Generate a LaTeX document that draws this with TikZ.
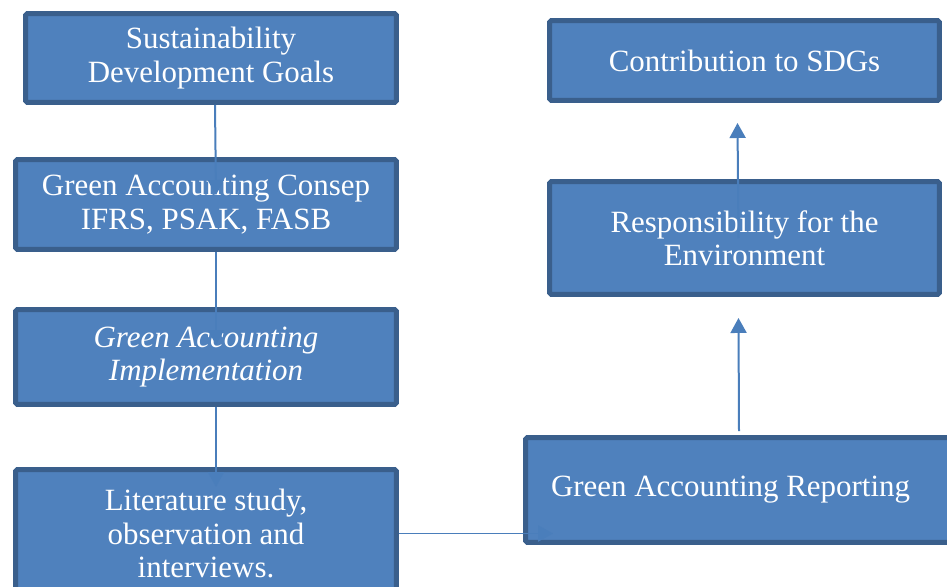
\documentclass[tikz,border=0pt]{standalone}
\usepackage{fontspec}
\setmainfont{Liberation Serif}
\usetikzlibrary{arrows.meta,calc}

\definecolor{boxfill}{HTML}{4F81BD}
\definecolor{boxline}{HTML}{3A5F8C}
\definecolor{arrowblue}{HTML}{4A7EBB}

\tikzset{
	stage/.style={draw=boxline, line width=0.1cm, fill=boxfill, rounded corners=1pt,
		text=white, align=center, inner sep=0pt,
		font=\fontsize{17.6}{19}\selectfont},
	flow/.style={draw=arrowblue, line width=0.04cm,
		-{Triangle[width=0.32cm,length=0.3cm]}}
}

\begin{document}
\begin{tikzpicture}[x=0.02cm,y=-0.02cm]
	% Rahmen
	\clip (0,0) rectangle (947,587);
	\useasboundingbox (0,0) rectangle (947,587);

	% linke Spalte
	\node[stage, minimum width=7.42cm, minimum height=1.78cm] (sdg) at (211,58)
		{Sustainability\\Development Goals};
	\node[stage, minimum width=7.62cm, minimum height=1.80cm] (consep) at (206,204.5)
		{Green Accounting Consep\\IFRS, PSAK, FASB};
	\node[stage, minimum width=7.62cm, minimum height=1.90cm] (impl) at (206,357)
		{\itshape Green Accounting\\\itshape Implementation};
	\node[stage, minimum width=7.62cm, minimum height=2.56cm] (lit) at (206,533.5)
		{Literature study,\\observation and\\interviews.};

	% rechte Spalte
	\node[stage, minimum width=8.70cm, minimum height=2.10cm, text width=7.68cm,
		align=flush left, inner xsep=0.51cm] (report) at (743,490)
		{Green Accounting Reporting};
	\node[stage, minimum width=7.80cm, minimum height=2.26cm] (resp) at (744.5,238)
		{Responsibility for the\\Environment};
	\node[stage, minimum width=7.80cm, minimum height=1.60cm] (contrib) at (744.5,60.5)
		{Contribution to SDGs};

	% Pfeile
	\draw[flow] ($(sdg.south)+(4,0)$) -- ($(consep.north)+(10,38)$);
	\draw[flow] ($(consep.south)+(10,0)$) -- ($(impl.north)+(10,38)$);
	\draw[flow] ($(impl.south)+(10,0)$) -- ($(lit.north)+(10,20)$);
	\draw[flow] (lit.east) -- ($(lit.east -| report.west)+(30,0)$);
	\draw[flow] ($(report.north)+(-4,-4)$) -- ($(resp.south)+(-6,21)$);
	\draw[flow] ($(resp.center)+(-6,0)$) -- ($(contrib.south)+(-7,20)$);
\end{tikzpicture}
\end{document}
